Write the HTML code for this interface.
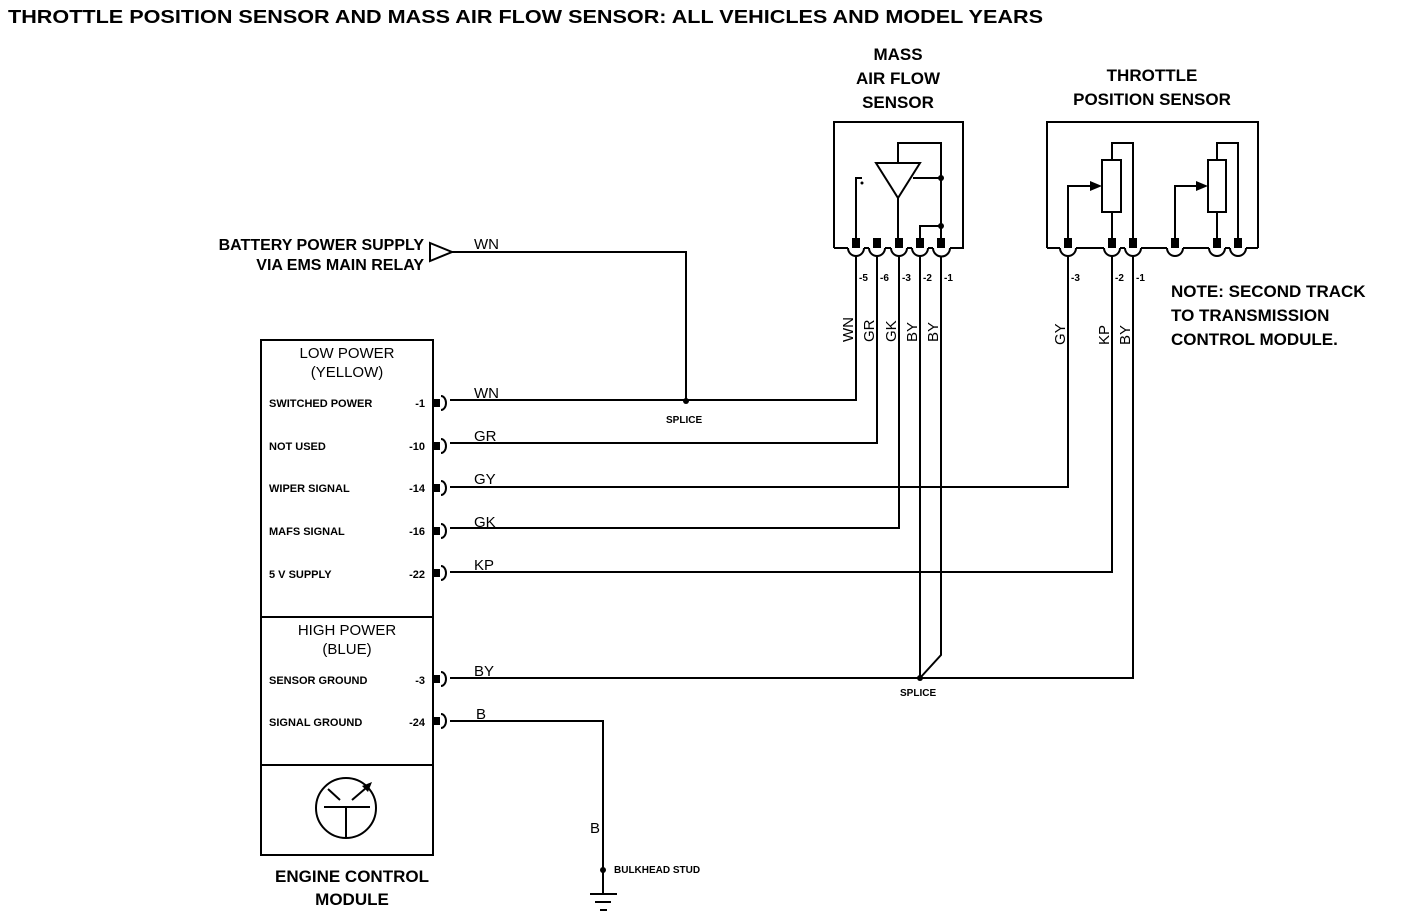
<!DOCTYPE html>
<html><head><meta charset="utf-8"><style>
html,body{margin:0;padding:0;background:#fff;}
svg{display:block;}
text{font-family:"Liberation Sans",Arial,sans-serif;fill:#000;}
.b{font-weight:bold;}
</style></head><body>
<svg width="1408" height="920" viewBox="0 0 1408 920" xmlns="http://www.w3.org/2000/svg">
<g stroke="#000" stroke-width="2" fill="none">
<path d="M834 248 V122 H963 V248 H950"/>
<path d="M834 248 H848 M864 248 H869 M885 248 H891 M907 248 H912 M928 248 H933"/>
<path d="M848 248 a8 8 0 0 0 16 0 M869 248 a8 8 0 0 0 16 0 M891 248 a8 8 0 0 0 16 0 M912 248 a8 8 0 0 0 16 0 M933 248 a8 8 0 0 0 17 0"/>
<path d="M876 163 H920 L898 198 Z"/>
<path d="M898 163 V143 H941 V248"/>
<path d="M898 198 V248"/>
<path d="M856 248 V178 H862"/>
<path d="M913 178 H941"/>
<path d="M920 248 V226 H941"/>
<path d="M1047 248 V122 H1258 V248"/>
<path d="M1047 248 H1060 M1076 248 H1104 M1120 248 H1125 M1141 248 H1167 M1183 248 H1209 M1225 248 H1230 M1246 248 H1258"/>
<path d="M1060 248 a8 8 0 0 0 16 0 M1104 248 a8 8 0 0 0 16 0 M1125 248 a8 8 0 0 0 16 0 M1167 248 a8 8 0 0 0 16 0 M1209 248 a8 8 0 0 0 16 0 M1230 248 a8 8 0 0 0 16 0"/>
<rect x="1102" y="160" width="19" height="52"/>
<rect x="1208" y="160" width="18" height="52"/>
<path d="M1112 160 V143 H1133 V248 M1112 212 V248 M1068 248 V186 H1092"/>
<path d="M1217 160 V143 H1238 V248 M1217 212 V248 M1175 248 V186 H1198"/>
<path d="M856 256 V400 H450"/>
<path d="M877 256 V443 H450"/>
<path d="M899 256 V528 H450"/>
<path d="M920 256 V678"/>
<path d="M941 256 V655 L920 678"/>
<path d="M1068 256 V487 H450"/>
<path d="M1112 256 V572 H450"/>
<path d="M1133 256 V678 H450"/>
<path d="M430 243 L452 252 L430 261 Z"/>
<path d="M452 252 H686 V400"/>
<path d="M450 721 H603 V893"/>
<path d="M590 894 H617 M595 902 H611 M600 910 H607"/>
<rect x="261" y="340" width="172" height="515"/>
<path d="M261 617 H433 M261 765 H433"/>
<circle cx="346" cy="808" r="30"/>
<path d="M324 807 H370 M346 807 V838 M328 789 L340 800 M352 800 L366 788"/>
<path d="M441 396 a5 7 0 0 1 0 14 M441 439 a5 7 0 0 1 0 14 M441 481 a5 7 0 0 1 0 14 M441 524 a5 7 0 0 1 0 14 M441 566 a5 7 0 0 1 0 14 M441 672 a5 7 0 0 1 0 14 M441 714 a5 7 0 0 1 0 14"/>
</g>
<g fill="#000">
<path d="M362 786 L372 782 L368 792 Z"/>
<rect x="852" y="238" width="8" height="10"/><rect x="873" y="238" width="8" height="10"/><rect x="895" y="238" width="8" height="10"/><rect x="916" y="238" width="8" height="10"/><rect x="937" y="238" width="8" height="10"/>
<rect x="1064" y="238" width="8" height="10"/><rect x="1108" y="238" width="8" height="10"/><rect x="1129" y="238" width="8" height="10"/><rect x="1171" y="238" width="8" height="10"/><rect x="1213" y="238" width="8" height="10"/><rect x="1234" y="238" width="8" height="10"/>
<circle cx="941" cy="178" r="3"/><circle cx="941" cy="226" r="3"/><circle cx="862" cy="183" r="1.5"/>
<path d="M1090 181 L1102 186 L1090 191 Z"/><path d="M1196 181 L1208 186 L1196 191 Z"/>
<circle cx="686" cy="401" r="3"/><circle cx="920" cy="678" r="3"/><circle cx="603" cy="870" r="3"/>
<rect x="434" y="399" width="6" height="8"/><rect x="434" y="442" width="6" height="8"/><rect x="434" y="484" width="6" height="8"/><rect x="434" y="527" width="6" height="8"/><rect x="434" y="569" width="6" height="8"/><rect x="434" y="675" width="6" height="8"/><rect x="434" y="717" width="6" height="8"/>
</g>
<text x="8" y="23" font-size="18" class="b" textLength="1035" lengthAdjust="spacingAndGlyphs">THROTTLE POSITION SENSOR AND MASS AIR FLOW SENSOR: ALL VEHICLES AND MODEL YEARS</text>
<g font-size="17" text-anchor="middle" class="b">
<text x="898" y="60">MASS</text><text x="898" y="84">AIR FLOW</text><text x="898" y="108">SENSOR</text>
<text x="1152" y="81">THROTTLE</text><text x="1152" y="105">POSITION SENSOR</text>
<text x="352" y="882">ENGINE CONTROL</text><text x="352" y="905">MODULE</text>
</g>
<g font-size="15" text-anchor="middle">
<text x="347" y="358">LOW POWER</text><text x="347" y="377">(YELLOW)</text>
<text x="347" y="635">HIGH POWER</text><text x="347" y="654">(BLUE)</text>
</g>
<g font-size="16" text-anchor="end" class="b">
<text x="424" y="250">BATTERY POWER SUPPLY</text><text x="424" y="270">VIA EMS MAIN RELAY</text>
</g>
<g font-size="17" class="b">
<text x="1171" y="297">NOTE: SECOND TRACK</text><text x="1171" y="321">TO TRANSMISSION</text><text x="1171" y="345">CONTROL MODULE.</text>
</g>
<g font-size="15">
<text x="474" y="249">WN</text>
<text x="474" y="398">WN</text><text x="474" y="441">GR</text><text x="474" y="484">GY</text><text x="474" y="527">GK</text><text x="474" y="570">KP</text><text x="474" y="676">BY</text><text x="476" y="719">B</text>
<text x="590" y="833">B</text>
</g>
<g font-size="11" class="b">
<text x="269" y="407">SWITCHED POWER</text><text x="269" y="450">NOT USED</text><text x="269" y="492">WIPER SIGNAL</text><text x="269" y="535">MAFS SIGNAL</text><text x="269" y="578">5 V SUPPLY</text>
<text x="269" y="684">SENSOR GROUND</text><text x="269" y="726">SIGNAL GROUND</text>
</g>
<g font-size="11" class="b" text-anchor="end">
<text x="425" y="407">-1</text><text x="425" y="450">-10</text><text x="425" y="492">-14</text><text x="425" y="535">-16</text><text x="425" y="578">-22</text><text x="425" y="684">-3</text><text x="425" y="726">-24</text>
</g>
<g font-size="10" class="b">
<text x="666" y="423">SPLICE</text><text x="900" y="696">SPLICE</text><text x="614" y="873">BULKHEAD STUD</text>
<text x="859" y="281">-5</text><text x="880" y="281">-6</text><text x="902" y="281">-3</text><text x="923" y="281">-2</text><text x="944" y="281">-1</text>
<text x="1071" y="281">-3</text><text x="1115" y="281">-2</text><text x="1136" y="281">-1</text>
</g>
<g font-size="15">
<text transform="translate(853,342) rotate(-90)">WN</text>
<text transform="translate(874,342) rotate(-90)">GR</text>
<text transform="translate(896,342) rotate(-90)">GK</text>
<text transform="translate(917,342) rotate(-90)">BY</text>
<text transform="translate(938,342) rotate(-90)">BY</text>
<text transform="translate(1065,345) rotate(-90)">GY</text>
<text transform="translate(1109,345) rotate(-90)">KP</text>
<text transform="translate(1130,345) rotate(-90)">BY</text>
</g>
</svg>
</body></html>
